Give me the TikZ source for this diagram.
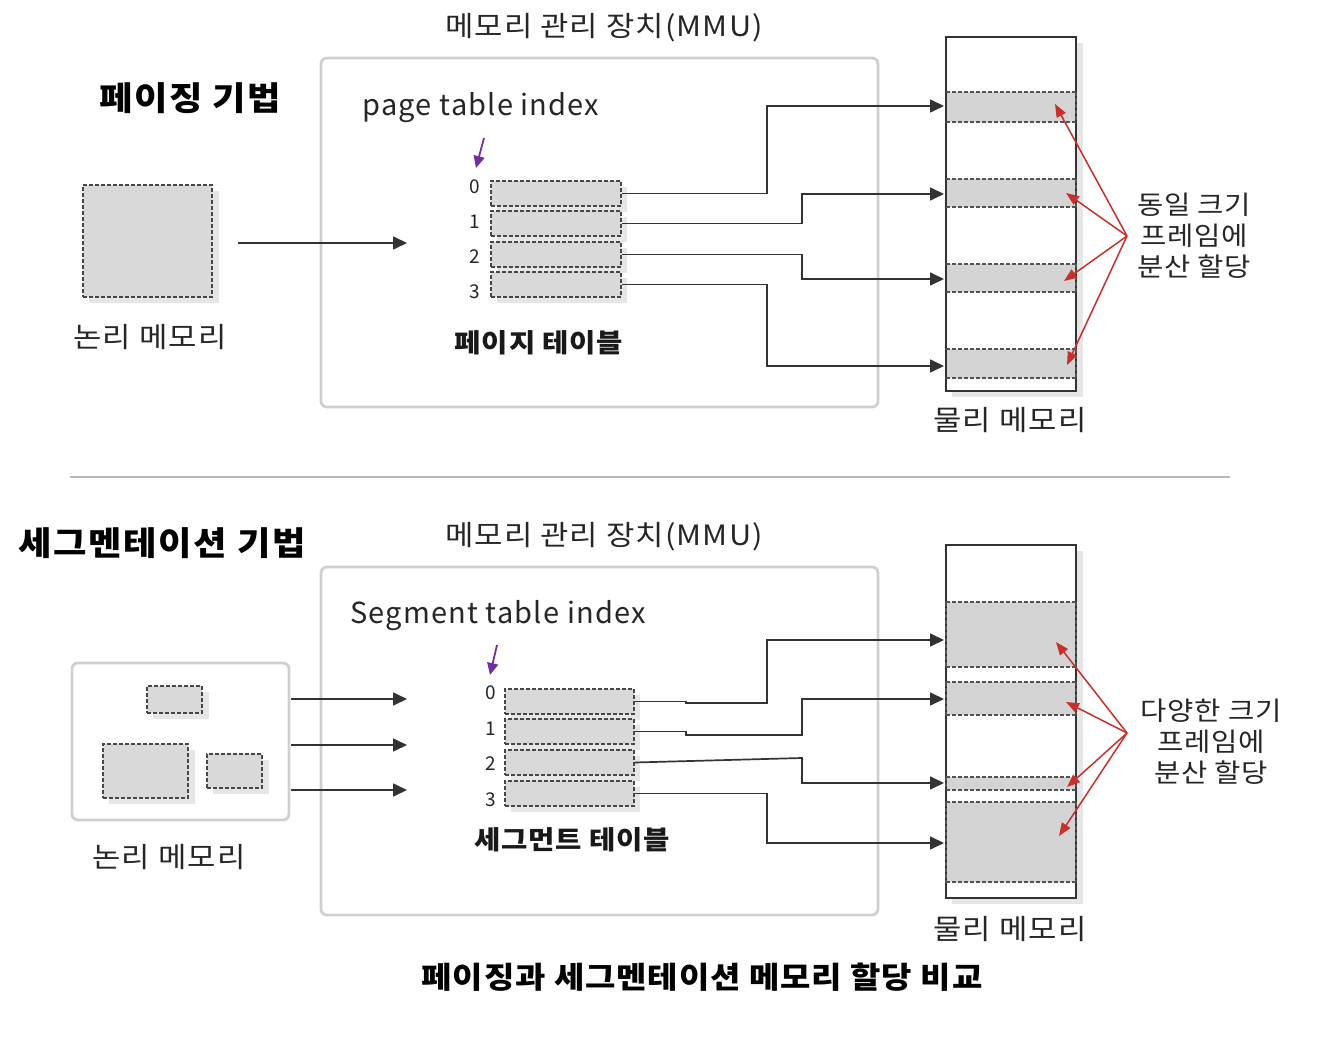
\documentclass[tikz,border=0pt]{standalone}
\usepackage{fontspec}
\setmainfont{Noto Sans CJK KR}
\usetikzlibrary{arrows.meta}
\definecolor{boxgray}{HTML}{D9D9D9}
\definecolor{shadowgray}{HTML}{E6E6E6}
\definecolor{framegray}{HTML}{D4D4D4}
\definecolor{linegray}{HTML}{333333}
\definecolor{mmugray}{HTML}{CFCFCF}
\definecolor{arrred}{HTML}{C8302E}
\definecolor{arrpurple}{HTML}{7030A0}
\tikzset{
  txt/.style={inner sep=0pt, font=\fontsize{28}{32}\selectfont\addfontfeatures{FakeStretch=1.1,LetterSpace=4}, text=black!85},
  ltxt/.style={inner sep=0pt, font=\fontsize{29}{32}\selectfont\addfontfeatures{LetterSpace=4}, text=black!85},
  ttl/.style={inner sep=0pt, font=\fontsize{33}{38}\selectfont\bfseries\addfontfeatures{FakeStretch=1.1,LetterSpace=5}},
  btxt/.style={inner sep=0pt, font=\fontsize{26}{30}\selectfont\bfseries\addfontfeatures{FakeStretch=1.1,LetterSpace=3}, text=black!90},
  idx/.style={inner sep=0pt, font=\fontsize{19}{22}\selectfont, text=black!85},
  side/.style={inner sep=0pt, align=center, font=\fontsize{26}{31}\selectfont\addfontfeatures{FakeStretch=1.1,LetterSpace=3}, text=black!85},
  mmubox/.style={draw=mmugray, line width=2.8pt, rounded corners=6pt},
  entry/.style={draw=linegray!90, fill=boxgray, dash pattern=on 4pt off 2pt, line width=1.4pt, minimum width=130pt, minimum height=25pt, inner sep=0pt},
  shadow/.style={fill=shadowgray},
  conn/.style={draw=linegray, line width=1.7pt},
  arr/.style={conn, -{Triangle[length=14pt,width=13pt]}},
  redarr/.style={draw=arrred, line width=1.5pt, -{Triangle[length=13pt,width=10pt]}},
  purparr/.style={draw=arrpurple, line width=1.8pt, -{Triangle[length=12pt,width=11pt]}},
  physbox/.style={draw=linegray, line width=1.6pt, fill=white},
  framedash/.style={draw=linegray!85, line width=1.4pt, dash pattern=on 4pt off 2pt},
  sep/.style={draw=black!28, line width=2.8pt}
}
\begin{document}
\begin{tikzpicture}[x=1pt,y=-1pt]
\useasboundingbox (0,0) rectangle (1318,1048);
\fill[white] (0,0) rectangle (1318,1048);

% ================= TOP: paging =================
\node[ttl] (t1) at (190,98) {페이징 기법};
\node[txt] (mmu1lbl) at (604,28) {메모리 관리 장치(MMU)};
\draw[mmubox] (321,58) rectangle (878,407);
\node[ltxt] (pti) at (481,108) {page table index};
\draw[purparr] (484,138) -- (476,168);

% logical memory
\fill[shadow] (89,191) rectangle (219,303);
\node[entry, minimum width=129pt, minimum height=112pt] (lm1) at (147.5,241) {};
\node[txt] (lm1lbl) at (150,337) {논리 메모리};
\draw[arr] (238,243) -- (407,243);

% page table
\foreach \i/\y/\iy in {0/193.5/187,1/223.5/222,2/254.5/257,3/284.5/292}{
  \fill[shadow] (497,\y-6.5) rectangle (627,\y+18.5);
  \node[entry] (p\i) at (556,\y) {};
  \node[idx] (pi\i) at (475,\iy) {\i};
}
\node[btxt] (ptlbl) at (539,343) {페이지 테이블};

% physical memory
\fill[shadow] (952,43) rectangle (1083,397);
\draw[physbox] (946,37) rectangle (1076,391);
\foreach \n/\a/\b in {0/92/122,1/179/207,2/264/292,3/349/378}{
  \fill[framegray] (947,\a) rectangle (1075,\b);
  \draw[framedash] (946,\a) -- (1076,\a);
  \draw[framedash] (946,\b) -- (1076,\b);
  \draw[framedash] (1076,\a) -- (1076,\b);
}
\node[txt] (pm1lbl) at (1010,420) {물리 메모리};

\coordinate (ta0) at (944,106);
\coordinate (ta1) at (944,194);
\coordinate (ta2) at (944,279);
\coordinate (ta3) at (944,366);
\draw[arr] (p0.east) -- (767,193.5) |- (ta0);
\draw[arr] (p1.east) -- (802,223.5) |- (ta1);
\draw[arr] (p2.east) -- (802,254.5) |- (ta2);
\draw[arr] (p3.east) -- (767,284.5) |- (ta3);

\coordinate (rc1) at (1127,236);
\draw[redarr] (rc1) -- (1055,104);
\draw[redarr] (rc1) -- (1066,193);
\draw[redarr] (rc1) -- (1064,281);
\draw[redarr] (rc1) -- (1067,365);
\node[side] (s1) at (1194,236) {동일 크기\\프레임에\\분산 할당};

% separator
\draw[sep] (70,477) -- (1230,477);

% ================= BOTTOM: segmentation =================
\node[ttl] (t2) at (162,543) {세그멘테이션 기법};
\node[txt] (mmu2lbl) at (604,537) {메모리 관리 장치(MMU)};
\draw[mmubox] (321,567) rectangle (878,915);
\node[ltxt] (sti) at (498,616) {Segment table index};
\draw[purparr] (497,645) -- (490,675);

% logical memory (segments)
\draw[mmubox] (72,663) rectangle (289,820);
\fill[shadow] (153,692) rectangle (209,719);
\node[entry, minimum width=55pt, minimum height=27pt] (sg0) at (174.5,699.5) {};
\fill[shadow] (109,750) rectangle (195,804);
\node[entry, minimum width=85pt, minimum height=54pt] (sg1) at (145.5,771) {};
\fill[shadow] (213,760) rectangle (269,794);
\node[entry, minimum width=55pt, minimum height=34pt] (sg2) at (234.5,771) {};
\node[txt] (lm2lbl) at (169,857) {논리 메모리};
\coordinate (la0) at (291,699);
\coordinate (la1) at (291,745);
\coordinate (la2) at (291,790);
\coordinate (lb0) at (407,699);
\coordinate (lb1) at (407,745);
\coordinate (lb2) at (407,790);
\draw[arr] (la0) -- (lb0);
\draw[arr] (la1) -- (lb1);
\draw[arr] (la2) -- (lb2);

% segment table
\foreach \i/\y/\iy in {0/701.5/693,1/731.5/729,2/762.5/764,3/793.5/800}{
  \fill[shadow] (511,\y-6.5) rectangle (640,\y+18.5);
  \node[entry, minimum width=129pt] (s\i) at (569.5,\y) {};
  \node[idx] (si\i) at (491,\iy) {\i};
}
\node[btxt] (stlbl) at (572,840) {세그먼트 테이블};

% physical memory
\fill[shadow] (952,551) rectangle (1083,904);
\draw[physbox] (946,545) rectangle (1076,898);
\foreach \n/\a/\b in {0/602/667,1/682/715,2/777/790,3/802/882}{
  \fill[framegray] (947,\a) rectangle (1075,\b);
  \draw[framedash] (946,\a) -- (1076,\a);
  \draw[framedash] (946,\b) -- (1076,\b);
  \draw[framedash] (1076,\a) -- (1076,\b);
  \draw[framedash] (946,\a) -- (946,\b);
}
\node[txt] (pm2lbl) at (1010,929) {물리 메모리};

\coordinate (tb0) at (944,640);
\coordinate (tb1) at (944,699);
\coordinate (tb2) at (944,783);
\coordinate (tb3) at (944,843);
\draw[arr] (s0.east) -- (686,701.5) -- (686,703) -- (767,703) |- (tb0);
\draw[arr] (s1.east) -- (686,731.5) -- (686,735) -- (802,735) |- (tb1);
\draw[arr] (s2.east) -- (802,758) |- (tb2);
\draw[arr] (s3.east) -- (767,793.5) |- (tb3);

\coordinate (rc2) at (1127,733);
\draw[redarr] (rc2) -- (1056,642);
\draw[redarr] (rc2) -- (1066,702);
\draw[redarr] (rc2) -- (1067,787);
\draw[redarr] (rc2) -- (1059,836);
\node[side] (s2lbl) at (1211,742) {다양한 크기\\프레임에\\분산 할당};

% caption
\node[ttl, font=\fontsize{30}{34}\selectfont\bfseries\addfontfeatures{FakeStretch=1.1,LetterSpace=3}] (cap) at (702,977) {페이징과 세그멘테이션 메모리 할당 비교};
\end{tikzpicture}
\end{document}
